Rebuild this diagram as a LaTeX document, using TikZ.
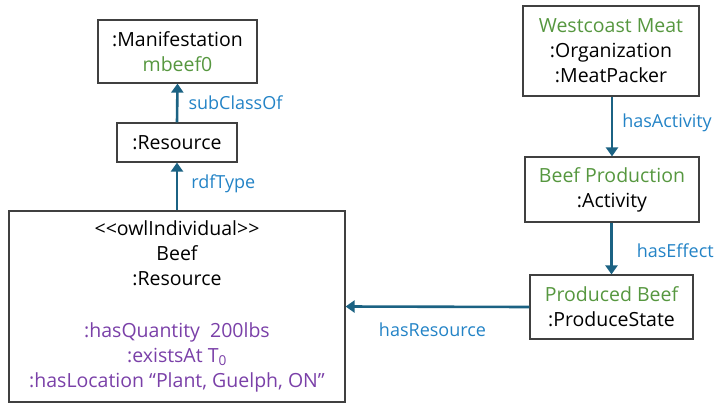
\documentclass[tikz,border=0pt]{standalone}
\usepackage{fontspec}
\setmainfont{Open Sans}
\usetikzlibrary{arrows.meta}
\definecolor{idgreen}{HTML}{56973F}
\definecolor{relblue}{HTML}{2383C6}
\definecolor{proppurple}{HTML}{7A40A8}
\definecolor{arrowteal}{HTML}{1B6283}
\begin{document}
\begin{tikzpicture}[x=1pt, y=-1pt,
  every node/.style = {align=center, font=\fontsize{19.5}{25}\selectfont},
  box/.style = {shape=rectangle, draw=black!75, line width=1.2pt,
    inner sep=0pt},
  rel/.style = {draw=arrowteal, line width=2.6pt,
    -{Triangle[width=12pt, length=9pt]}},
  lbl/.style = {text=relblue, anchor=west, inner sep=0pt,
    font=\fontsize{18}{22}\selectfont}]
  \useasboundingbox (0,0) rectangle (716,405);
  % ontology side
  \node[box, minimum width=159pt, minimum height=63pt] (manif) at (177.5,51.5)
    {:Manifestation\\ \textcolor{idgreen}{mbeef0}};
  \node[box, minimum width=120pt, minimum height=39pt] (resource) at (177,142.5)
    {:Resource};
  \node[box, minimum width=336pt, minimum height=191pt] (beef) at (177,306.5)
    {<{}<owlIndividual>{}>\\ Beef\\ :Resource\\[27pt]
     \textcolor{proppurple}{:hasQuantity\ \ 200lbs}\\
     \textcolor{proppurple}{:existsAt T\textsubscript{0}}\\
     \textcolor{proppurple}{:hasLocation “Plant, Guelph, ON”}};
  % activity side
  \node[box, minimum width=176pt, minimum height=90pt] (packer) at (611,51)
    {\textcolor{idgreen}{Westcoast Meat}\\ :Organization\\ :MeatPacker};
  \node[box, minimum width=174pt, minimum height=65pt] (activity) at (612,189.5)
    {\textcolor{idgreen}{Beef Production}\\ :Activity};
  \node[box, minimum width=163pt, minimum height=64pt] (state) at (611.5,307)
    {\textcolor{idgreen}{Produced Beef}\\ :ProduceState};
  % relations
  \draw[rel] (resource.north) -- (manif.south)
    node[lbl, midway, xshift=10pt] {subClassOf};
  \draw[rel] (beef.north) -- (resource.south)
    node[lbl, midway, xshift=13pt, yshift=3pt] {rdfType};
  \draw[rel] (packer.south -| activity.north) -- (activity.north)
    node[lbl, midway, xshift=9pt, yshift=4pt] {hasActivity};
  \draw[rel] (activity.south -| state.north) -- (state.north)
    node[lbl, midway, xshift=24pt, yshift=-2pt] {hasEffect};
  \draw[rel] (state.west) -- (beef.east)
    node[lbl, anchor=center, midway, below=15pt, xshift=-5pt] {hasResource};
\end{tikzpicture}
\end{document}
